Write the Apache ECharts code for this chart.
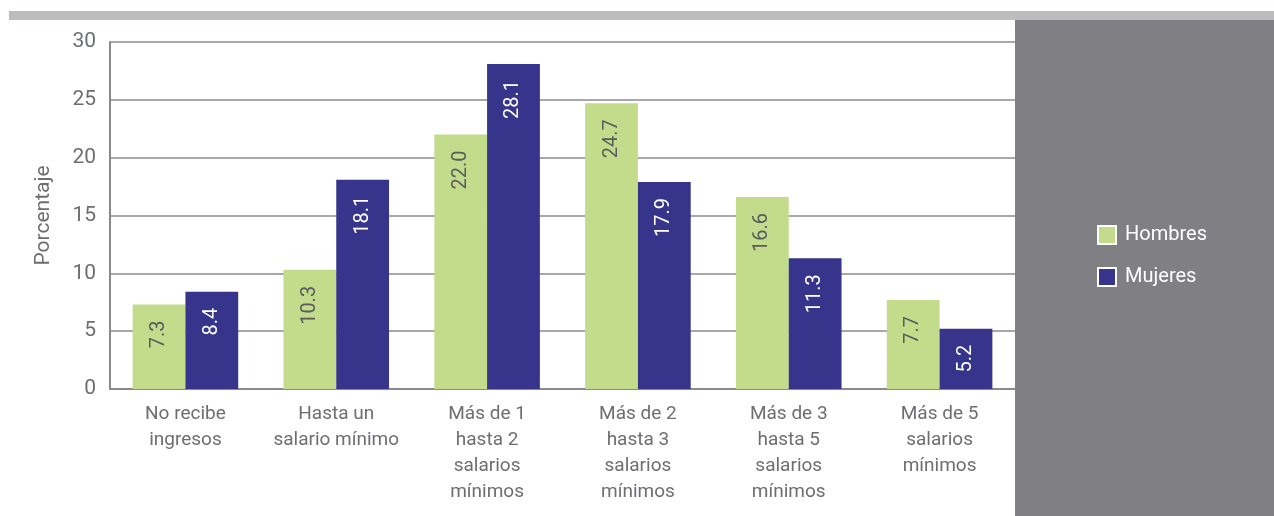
<!DOCTYPE html>
<html>
<head>
<meta charset="utf-8">
<script src="https://cdn.jsdelivr.net/npm/echarts@6/dist/echarts.min.js"></script>
<style>
  html, body { margin: 0; padding: 0; background: #fff; }
  #chart { width: 1274px; height: 516px; }
</style>
</head>
<body>
<div id="chart"></div>
<script>
const categories = [
    "No recibe\ningresos",
    "Hasta un\nsalario mínimo",
    "Más de 1\nhasta 2\nsalarios\nmínimos",
    "Más de 2\nhasta 3\nsalarios\nmínimos",
    "Más de 3\nhasta 5\nsalarios\nmínimos",
    "Más de 5\nsalarios\nmínimos"
];
const hombres = [7.3, 10.3, 22.0, 24.7, 16.6, 7.7];
const mujeres = [8.4, 18.1, 28.1, 17.9, 11.3, 5.2];
const yTicks = [0, 5, 10, 15, 20, 25, 30];

const FONT = "'Liberation Sans Narrow', 'Roboto', sans-serif";
const GREEN = "#c2dc8c";
const BLUE = "#37348c";
const GREY = "#6d6e71";

const chart = echarts.init(document.getElementById("chart"), null, { renderer: "canvas" });

// etiqueta vertical dentro de la barra
function barLabel(color) {
    return {
        show: true,
        position: "insideTop",
        rotate: 90,
        align: "right",
        verticalAlign: "middle",
        distance: 16,
        color: color,
        fontFamily: FONT,
        fontSize: 20,
        formatter: p => p.value.toFixed(1)
    };
}

chart.setOption({
    animation: false,
    graphic: [
        // barra superior gris
        { type: "rect", shape: { x: 9, y: 11, width: 1265, height: 9 }, style: { fill: "#bcbdbf" }, z: 0 },
        // panel de la leyenda
        { type: "rect", shape: { x: 1015, y: 20, width: 259, height: 496 }, style: { fill: "#808084" }, z: 0 }
    ],
    legend: {
        orient: "vertical",
        left: 1092,
        top: 220,
        itemWidth: 18,
        itemHeight: 18,
        itemGap: 22,
        icon: "rect",
        itemStyle: { borderColor: "#fff", borderWidth: 2 },
        textStyle: { color: "#fff", fontFamily: FONT, fontSize: 20, padding: [0, 0, 0, 4] },
        data: ["Hombres", "Mujeres"]
    },
    grid: { left: 110, right: 259, top: 42, bottom: 127, containLabel: false },
    xAxis: {
        type: "category",
        data: categories,
        axisLine: { lineStyle: { color: "#8a8a8c", width: 2 } },
        axisTick: { show: false },
        axisLabel: {
            color: GREY,
            fontFamily: FONT,
            fontSize: 19,
            lineHeight: 26,
            margin: 12,
            interval: 0
        }
    },
    yAxis: {
        type: "value",
        min: yTicks[0],
        max: yTicks[yTicks.length - 1],
        interval: 5,
        name: "Porcentaje",
        nameLocation: "middle",
        nameGap: 56,
        nameRotate: 90,
        nameTextStyle: { color: GREY, fontFamily: FONT, fontSize: 21 },
        axisLine: { show: true, lineStyle: { color: "#8a8a8c", width: 2 } },
        axisTick: { show: false },
        axisLabel: { color: GREY, fontFamily: FONT, fontSize: 21, margin: 14 },
        splitLine: { lineStyle: { color: "#a7a8aa", width: 2 } }
    },
    series: [
        {
            name: "Hombres",
            type: "bar",
            data: hombres,
            barWidth: "35%",
            barGap: "0%",
            itemStyle: { color: GREEN },
            label: barLabel("#5a5b5e")
        },
        {
            name: "Mujeres",
            type: "bar",
            data: mujeres,
            barWidth: "35%",
            itemStyle: { color: BLUE },
            label: barLabel("#ffffff")
        }
    ]
});
</script>
</body>
</html>
